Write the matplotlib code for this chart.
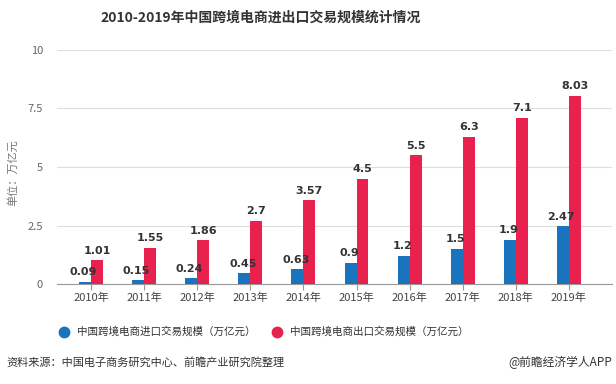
import matplotlib
matplotlib.use("Agg")
import matplotlib.pyplot as plt
from matplotlib.lines import Line2D
import numpy as np

plt.rcParams['font.family'] = ['Noto Sans CJK SC', 'DejaVu Sans']

years = ['2010年', '2011年', '2012年', '2013年', '2014年', '2015年', '2016年', '2017年', '2018年', '2019年']
import_vals = [0.09, 0.15, 0.24, 0.45, 0.63, 0.9, 1.2, 1.5, 1.9, 2.47]
export_vals = [1.01, 1.55, 1.86, 2.7, 3.57, 4.5, 5.5, 6.3, 7.1, 8.03]
yticks = [0, 2.5, 5, 7.5, 10]
ytick_labels = ['0', '2.5', '5', '7.5', '10']

blue = '#1a74bd'
red = '#e8214f'

fig = plt.figure(figsize=(6.16, 3.84), dpi=100)
ax = fig.add_axes([57/616, 1-284/384, (612-57)/616, (284-50)/384])

x = np.arange(len(years))
w = 0.225
ax.bar(x - w/2, import_vals, width=w, color=blue, zorder=3)
ax.bar(x + w/2, export_vals, width=w, color=red, zorder=3)

for xi, v in zip(x, import_vals):
    ax.text(xi - w/2 - 0.03, v + 0.2, f'{v:g}', ha='center', va='bottom', fontsize=8,
            fontweight='bold', color='#333333', family='DejaVu Sans')
for xi, v in zip(x, export_vals):
    ax.text(xi + w/2, v + 0.2, f'{v:g}', ha='center', va='bottom', fontsize=8,
            fontweight='bold', color='#333333', family='DejaVu Sans')

ax.set_xlim(-0.64, 9.81)
ax.set_ylim(0, 10)
ax.set_yticks(yticks)
ax.set_yticklabels(ytick_labels)
ax.set_xticks(x)
ax.set_xticklabels(years)
ax.grid(axis='y', color='#dddddd', linewidth=0.8, zorder=0)
for s in ['top', 'right', 'left']:
    ax.spines[s].set_visible(False)
ax.spines['bottom'].set_color('#999999')
ax.tick_params(axis='y', length=0, labelsize=8, labelcolor='#666666', pad=10)
ax.tick_params(axis='x', length=4, color='#999999', labelsize=8, labelcolor='#444444', pad=2)

fig.text(13/616, 1-173/384, '单位：万亿元', rotation=90, ha='center', va='center',
         fontsize=8, color='#777777')

fig.text(261/616, 1-18/384, '2010-2019年中国跨境电商进出口交易规模统计情况', ha='center', va='center',
         fontsize=10, fontweight='bold', color='#333333')

handles = [Line2D([], [], marker='o', linestyle='', markersize=7.5, color=blue),
           Line2D([], [], marker='o', linestyle='', markersize=7.5, color=red)]
fig.legend(handles, ['中国跨境电商进口交易规模（万亿元）', '中国跨境电商出口交易规模（万亿元）'],
           loc='center', bbox_to_anchor=(261/616, 1-332/384), ncol=2, frameon=False,
           fontsize=7.6, handletextpad=0.2, columnspacing=1.1, labelcolor='#333333')

fig.text(6/616, 1-362/384, '资料来源：中国电子商务研究中心、前瞻产业研究院整理', ha='left', va='center',
         fontsize=8, color='#333333')
fig.text(612/616, 1-362/384, '@前瞻经济学人APP', ha='right', va='center',
         fontsize=8.5, color='#333333')

fig.savefig('out.png', dpi=100)
